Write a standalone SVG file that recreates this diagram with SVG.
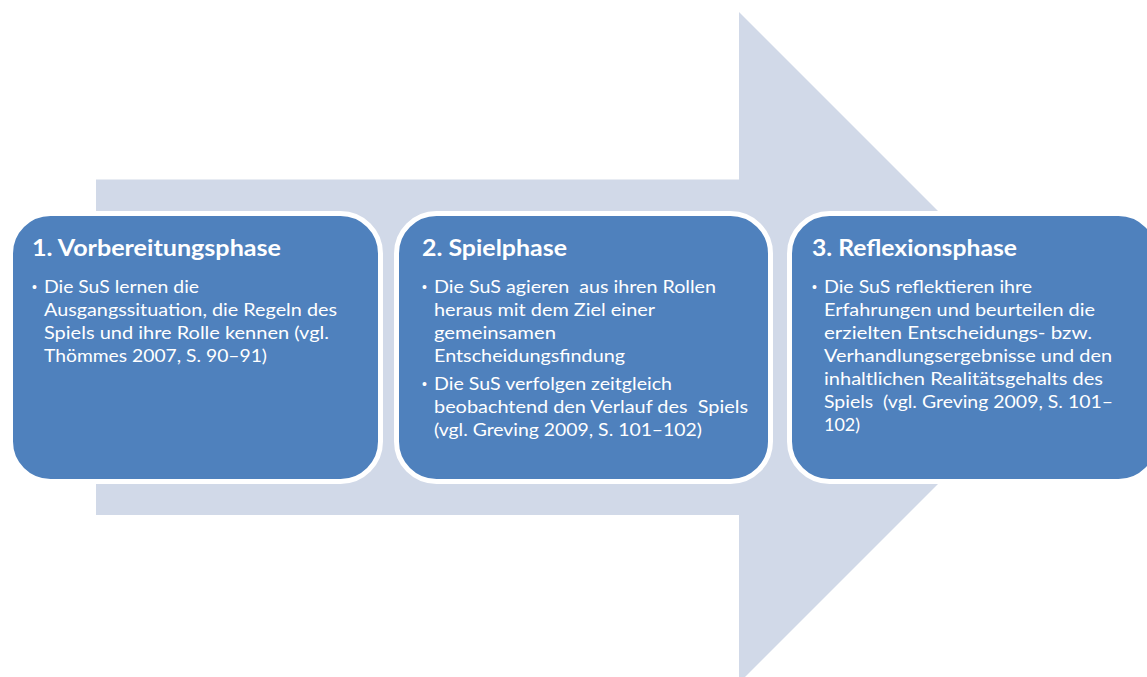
<svg xmlns="http://www.w3.org/2000/svg" width="1147" height="677" viewBox="0 0 1147 677">
<style>
.box{fill:#4F81BD;stroke:#FFFFFF;stroke-width:5}
.t{font-family:Lato,"Open Sans","Liberation Sans",sans-serif;font-weight:bold;font-size:22px;fill:#FFFFFF}
.b{font-family:Lato,"Open Sans","Liberation Sans",sans-serif;font-size:17.5px;fill:#FFFFFF}
.d{font-family:"Liberation Sans",sans-serif;font-size:14px;fill:#FFFFFF}
</style>
<rect width="1147" height="677" fill="#FFFFFF"/>
<g id="connectors">
<polygon id="arrow" points="96,179.5 739,179.5 739,12 1074.5,347.5 739,683 739,515 96,515" fill="#D1D9E8"/>
</g>
<g id="node1">
<rect class="box" x="10.5" y="213.5" width="370" height="268" rx="40"/>
<text class="t" x="32" y="256" textLength="249" lengthAdjust="spacingAndGlyphs">1. Vorbereitungsphase</text>
<text class="d" x="32" y="292">•</text>
<text class="b" x="44" y="293" textLength="155" lengthAdjust="spacingAndGlyphs">Die SuS lernen die</text>
<text class="b" x="44" y="316" textLength="293" lengthAdjust="spacingAndGlyphs">Ausgangssituation, die Regeln des</text>
<text class="b" x="44" y="339" textLength="285" lengthAdjust="spacingAndGlyphs">Spiels und ihre Rolle kennen (vgl.</text>
<text class="b" x="44" y="362" textLength="223" lengthAdjust="spacingAndGlyphs">Thömmes 2007, S. 90–91)</text>
</g>
<g id="node2">
<rect class="box" x="396.5" y="213.5" width="374" height="268" rx="40"/>
<text class="t" x="422" y="256" textLength="145" lengthAdjust="spacingAndGlyphs">2. Spielphase</text>
<text class="d" x="422" y="292">•</text>
<text class="b" x="434" y="293" textLength="282" lengthAdjust="spacingAndGlyphs" xml:space="preserve">Die SuS agieren  aus ihren Rollen</text>
<text class="b" x="434" y="316" textLength="221" lengthAdjust="spacingAndGlyphs">heraus mit dem Ziel einer</text>
<text class="b" x="434" y="339" textLength="122" lengthAdjust="spacingAndGlyphs">gemeinsamen</text>
<text class="b" x="434" y="362" textLength="191" lengthAdjust="spacingAndGlyphs">Entscheidungsfindung</text>
<text class="d" x="422" y="389">•</text>
<text class="b" x="434" y="390" textLength="238" lengthAdjust="spacingAndGlyphs">Die SuS verfolgen zeitgleich</text>
<text class="b" x="434" y="413" textLength="314" lengthAdjust="spacingAndGlyphs" xml:space="preserve">beobachtend den Verlauf des  Spiels</text>
<text class="b" x="434" y="436" textLength="268" lengthAdjust="spacingAndGlyphs">(vgl. Greving 2009, S. 101–102)</text>
</g>
<g id="node3">
<rect class="box" x="789.5" y="213.5" width="369" height="268" rx="40"/>
<text class="t" x="812" y="256" textLength="205" lengthAdjust="spacingAndGlyphs">3. Reflexionsphase</text>
<text class="d" x="812" y="292">•</text>
<text class="b" x="824" y="293" textLength="208" lengthAdjust="spacingAndGlyphs">Die SuS reflektieren ihre</text>
<text class="b" x="824" y="316" textLength="271" lengthAdjust="spacingAndGlyphs">Erfahrungen und beurteilen die</text>
<text class="b" x="824" y="339" textLength="268" lengthAdjust="spacingAndGlyphs">erzielten Entscheidungs- bzw.</text>
<text class="b" x="824" y="362" textLength="288" lengthAdjust="spacingAndGlyphs">Verhandlungsergebnisse und den</text>
<text class="b" x="824" y="385" textLength="279" lengthAdjust="spacingAndGlyphs">inhaltlichen Realitätsgehalts des</text>
<text class="b" x="824" y="408" textLength="289" lengthAdjust="spacingAndGlyphs" xml:space="preserve">Spiels  (vgl. Greving 2009, S. 101–</text>
<text class="b" x="824" y="431" textLength="36" lengthAdjust="spacingAndGlyphs">102)</text>
</g>
</svg>
